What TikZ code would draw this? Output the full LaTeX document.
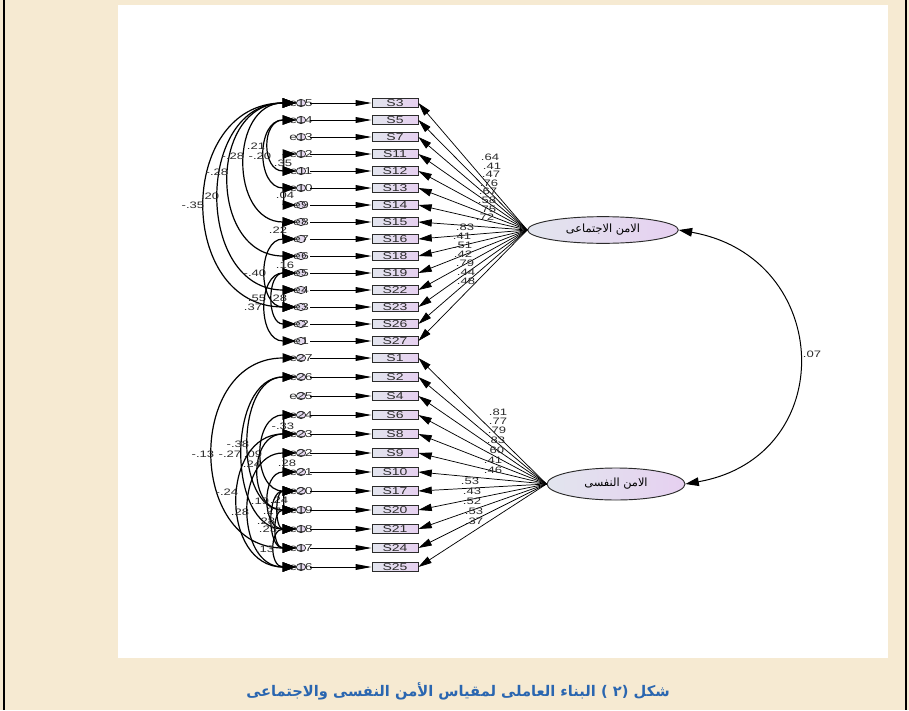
\documentclass[tikz,border=0pt]{standalone}
\usepackage{fontspec}
\usepackage{xcolor}
\usepackage{tikz}
\usetikzlibrary{arrows.meta,shapes}
\setmainfont{Liberation Sans}
\newfontfamily\amosfont[FakeStretch=1.4]{Liberation Sans}
\newfontfamily\arabicfont[Script=Arabic]{DejaVu Sans}
\TeXXeTstate=1
\definecolor{pagebg}{HTML}{F6EAD2}
\definecolor{capblue}{HTML}{2A66B0}
\definecolor{lav}{HTML}{E6D0F0}
\definecolor{lgray}{HTML}{E2E5EE}
\definecolor{ink}{HTML}{2B2B2B}

\begin{document}
\begin{tikzpicture}[
  x=0.75pt, y=-0.75pt,
  itembox/.style={draw=ink,line width=0.6pt,rectangle,left color=lgray,right color=lav,minimum width=34.5pt,minimum height=7pt,inner sep=0pt,font=\amosfont\fontsize{7.5}{8}\selectfont,text=ink},
  err/.style={draw=ink,line width=0.5pt,ellipse,left color=lgray,right color=lav,minimum width=7pt,minimum height=5.5pt,inner sep=0pt},
  every label/.style={font=\amosfont\fontsize{7.5}{8}\selectfont,text=ink,inner sep=0pt},
  latent/.style={draw=ink,line width=0.7pt,ellipse,left color=lgray,right color=lav,inner sep=0pt,font=\arabicfont\fontsize{8.5}{9}\selectfont},
  lbl/.style={font=\amosfont\fontsize{7}{8}\selectfont,text=ink,inner sep=0pt},
  erarrow/.style={-{Triangle[length=12pt,width=4.3pt]},line width=0.7pt,shorten <=3pt},
  ldarrow/.style={-{Triangle[length=10pt,width=5.5pt]},line width=0.55pt},
  cov/.style={{Triangle[length=10pt,width=7pt]}-{Triangle[length=10pt,width=7pt]},line width=0.9pt,out=180,in=180}
]
\useasboundingbox (0,0) rectangle (909,710);
% page and panel
\fill[pagebg] (0,0) rectangle (909,710);
\fill[white] (118,5) rectangle (888,658);
\draw[line width=0.8pt] (4,0) -- (4,710);
\draw[line width=0.8pt] (906,0) -- (906,710);
% latent factors
\node[latent,minimum width=113pt,minimum height=20pt] (soc) at (603,230) {\beginR الامن الاجتماعى\endR};
\node[latent,minimum width=103.5pt,minimum height=24pt] (psy) at (616,484) {\beginR الامن النفسى\endR};
% items, social factor
\node[itembox] (S3) at (395,103) {S3};
\node[itembox] (S5) at (395,120) {S5};
\node[itembox] (S7) at (395,137) {S7};
\node[itembox] (S11) at (395,154) {S11};
\node[itembox] (S12) at (395,171) {S12};
\node[itembox] (S13) at (395,188) {S13};
\node[itembox] (S14) at (395,205) {S14};
\node[itembox] (S15) at (395,222) {S15};
\node[itembox] (S16) at (395,239) {S16};
\node[itembox] (S18) at (395,256) {S18};
\node[itembox] (S19) at (395,273) {S19};
\node[itembox] (S22) at (395,290) {S22};
\node[itembox] (S23) at (395,307) {S23};
\node[itembox] (S26) at (395,324) {S26};
\node[itembox] (S27) at (395,341) {S27};
% items, psychological factor
\node[itembox] (S1) at (395,358) {S1};
\node[itembox] (S2) at (395,377) {S2};
\node[itembox] (S4) at (395,396) {S4};
\node[itembox] (S6) at (395,415) {S6};
\node[itembox] (S8) at (395,434) {S8};
\node[itembox] (S9) at (395,453) {S9};
\node[itembox] (S10) at (395,472) {S10};
\node[itembox] (S17) at (395,491) {S17};
\node[itembox] (S20) at (395,510) {S20};
\node[itembox] (S21) at (395,529) {S21};
\node[itembox] (S24) at (395,548) {S24};
\node[itembox] (S25) at (395,567) {S25};
% error terms
\node[err,label=center:e15] (e15) at (301,103) {};
\node[err,label=center:e14] (e14) at (301,120) {};
\node[err,label=center:e13] (e13) at (301,137) {};
\node[err,label=center:e12] (e12) at (301,154) {};
\node[err,label=center:e11] (e11) at (301,171) {};
\node[err,label=center:e10] (e10) at (301,188) {};
\node[err,label=center:e9] (e9) at (301,205) {};
\node[err,label=center:e8] (e8) at (301,222) {};
\node[err,label=center:e7] (e7) at (301,239) {};
\node[err,label=center:e6] (e6) at (301,256) {};
\node[err,label=center:e5] (e5) at (301,273) {};
\node[err,label=center:e4] (e4) at (301,290) {};
\node[err,label=center:e3] (e3) at (301,307) {};
\node[err,label=center:e2] (e2) at (301,324) {};
\node[err,label=center:e1] (e1) at (301,341) {};
\node[err,label=center:e27] (e27) at (301,358) {};
\node[err,label=center:e26] (e26) at (301,377) {};
\node[err,label=center:e25] (e25) at (301,396) {};
\node[err,label=center:e24] (e24) at (301,415) {};
\node[err,label=center:e23] (e23) at (301,434) {};
\node[err,label=center:e22] (e22) at (301,453) {};
\node[err,label=center:e21] (e21) at (301,472) {};
\node[err,label=center:e20] (e20) at (301,491) {};
\node[err,label=center:e19] (e19) at (301,510) {};
\node[err,label=center:e18] (e18) at (301,529) {};
\node[err,label=center:e17] (e17) at (301,548) {};
\node[err,label=center:e16] (e16) at (301,567) {};
% error -> item
\draw[erarrow] (e15) -- (S3); \draw[erarrow] (e14) -- (S5); \draw[erarrow] (e13) -- (S7);
\draw[erarrow] (e12) -- (S11); \draw[erarrow] (e11) -- (S12); \draw[erarrow] (e10) -- (S13);
\draw[erarrow] (e9) -- (S14); \draw[erarrow] (e8) -- (S15); \draw[erarrow] (e7) -- (S16);
\draw[erarrow] (e6) -- (S18); \draw[erarrow] (e5) -- (S19); \draw[erarrow] (e4) -- (S22);
\draw[erarrow] (e3) -- (S23); \draw[erarrow] (e2) -- (S26); \draw[erarrow] (e1) -- (S27);
\draw[erarrow] (e27) -- (S1); \draw[erarrow] (e26) -- (S2); \draw[erarrow] (e25) -- (S4);
\draw[erarrow] (e24) -- (S6); \draw[erarrow] (e23) -- (S8); \draw[erarrow] (e22) -- (S9);
\draw[erarrow] (e21) -- (S10); \draw[erarrow] (e20) -- (S17); \draw[erarrow] (e19) -- (S20);
\draw[erarrow] (e18) -- (S21); \draw[erarrow] (e17) -- (S24); \draw[erarrow] (e16) -- (S25);
% loadings
\draw[ldarrow] (soc.west) -- (S3.east); \draw[ldarrow] (soc.west) -- (S5.east); \draw[ldarrow] (soc.west) -- (S7.east);
\draw[ldarrow] (soc.west) -- (S11.east); \draw[ldarrow] (soc.west) -- (S12.east); \draw[ldarrow] (soc.west) -- (S13.east);
\draw[ldarrow] (soc.west) -- (S14.east); \draw[ldarrow] (soc.west) -- (S15.east); \draw[ldarrow] (soc.west) -- (S16.east);
\draw[ldarrow] (soc.west) -- (S18.east); \draw[ldarrow] (soc.west) -- (S19.east); \draw[ldarrow] (soc.west) -- (S22.east);
\draw[ldarrow] (soc.west) -- (S23.east); \draw[ldarrow] (soc.west) -- (S26.east); \draw[ldarrow] (soc.west) -- (S27.east);
\draw[ldarrow] (psy.west) -- (S1.east); \draw[ldarrow] (psy.west) -- (S2.east); \draw[ldarrow] (psy.west) -- (S4.east);
\draw[ldarrow] (psy.west) -- (S6.east); \draw[ldarrow] (psy.west) -- (S8.east); \draw[ldarrow] (psy.west) -- (S9.east);
\draw[ldarrow] (psy.west) -- (S10.east); \draw[ldarrow] (psy.west) -- (S17.east); \draw[ldarrow] (psy.west) -- (S20.east);
\draw[ldarrow] (psy.west) -- (S21.east); \draw[ldarrow] (psy.west) -- (S24.east); \draw[ldarrow] (psy.west) -- (S25.east);
% loading weights
\node[lbl] (wS3) at (490,157) {.64}; \node[lbl] (wS5) at (492,166) {.41}; \node[lbl] (wS7) at (491,174) {.47};
\node[lbl] (wS11) at (489,183) {.76}; \node[lbl] (wS12) at (488,191) {.67}; \node[lbl] (wS13) at (487,200) {.58};
\node[lbl] (wS14) at (487,209) {.75}; \node[lbl] (wS15) at (485,217) {.72}; \node[lbl] (wS16) at (465,227) {.83};
\node[lbl] (wS18) at (462,236) {.41}; \node[lbl] (wS19) at (463,245) {.51}; \node[lbl] (wS22) at (463,254) {.42};
\node[lbl] (wS23) at (465,263) {.79}; \node[lbl] (wS26) at (466,272) {.44}; \node[lbl] (wS27) at (466,281) {.48};
\node[lbl] (wS1) at (498,412) {.81}; \node[lbl] (wS2) at (498,421) {.77}; \node[lbl] (wS4) at (497,430) {.79};
\node[lbl] (wS6) at (496,440) {.83}; \node[lbl] (wS8) at (495,450) {.60}; \node[lbl] (wS9) at (493,460) {.41};
\node[lbl] (wS10) at (493,470) {.46}; \node[lbl] (wS17) at (470,481) {.53}; \node[lbl] (wS20) at (472,491) {.43};
\node[lbl] (wS21) at (472,501) {.52}; \node[lbl] (wS24) at (474,511) {.53}; \node[lbl] (wS25) at (474,521) {.37};
% factor covariance
\draw[{Triangle[length=10pt,width=6.5pt]}-{Triangle[length=10pt,width=6.5pt]},line width=0.75pt] (soc.east) to[out=-10,in=10,distance=118pt] (psy.east);
\node[lbl] (cvf) at (812,354) {.07};
% error covariances, social factor
\draw[cov] (e15) to[distance=90pt] (e3); \node[lbl] (cv1) at (193,205) {-.35};
\draw[cov] (e15) to[distance=76pt] (e4); \node[lbl] (cv2) at (210,196) {.20};
\draw[cov] (e15) to[distance=66pt] (e6); \node[lbl] (cv3) at (217,172) {-.28};
\draw[cov] (e15) to[distance=50pt] (e8); \node[lbl] (cv4) at (233,156) {-.28};
\draw[cov] (e14) to[distance=30pt] (e10); \node[lbl] (cv5) at (260,156) {-.20};
\draw[cov] (e14) to[distance=26pt] (e11); \node[lbl] (cv6) at (256,146) {.21};
\draw[cov] (e12) to[distance=9pt] (e11); \node[lbl] (cv7) at (283,163) {.35};
\draw[cov] (e10) to[distance=9pt] (e9); \node[lbl] (cv8) at (285,195) {.04};
\draw[cov] (e8) to[distance=10pt] (e7); \node[lbl] (cv9) at (278,230) {.22};
\draw[cov] (e6) to[distance=9pt] (e5); \node[lbl] (cv10) at (285,265) {.16};
\draw[cov] (e7) to[distance=29pt] (e3); \node[lbl] (cv11) at (255,273) {-.40};
\draw[cov] (e5) to[distance=22pt] (e2); \node[lbl] (cv12) at (257,298) {.55};
\draw[cov] (e4) to[distance=9pt] (e3); \node[lbl] (cv13) at (278,298) {.28};
\draw[cov] (e5) to[distance=29pt] (e1); \node[lbl] (cv14) at (253,307) {.37};
% error covariances, psychological factor
\draw[cov] (e27) to[distance=82pt] (e17); \node[lbl] (cv15) at (203,454) {-.13};
\draw[cov] (e26) to[distance=52pt] (e18); \node[lbl] (cv16) at (230,454) {-.27};
\draw[cov] (e26) to[distance=46pt] (e19); \node[lbl] (cv17) at (238,444) {-.38};
\draw[cov] (e24) to[distance=33pt] (e20); \node[lbl] (cv18) at (253,454) {.09};
\draw[cov] (e23) to[distance=36pt] (e19); \node[lbl] (cv19) at (252,464) {.24};
\draw[cov] (e24) to[distance=9pt] (e23); \node[lbl] (cv20) at (283,426) {-.33};
\draw[cov] (e22) to[distance=9pt] (e21); \node[lbl] (cv21) at (287,463) {.28};
\draw[cov] (e23) to[distance=57pt] (e16); \node[lbl] (cv22) at (227,492) {-.24};
\draw[cov] (e21) to[distance=26pt] (e18); \node[lbl] (cv23) at (260,501) {.19};
\draw[cov] (e20) to[distance=9pt] (e19); \node[lbl] (cv24) at (279,500) {.24};
\draw[cov] (e22) to[distance=46pt] (e16); \node[lbl] (cv25) at (240,512) {.28};
\draw[cov] (e20) to[distance=16pt] (e18); \node[lbl] (cv26) at (272,511) {.27};
\draw[cov] (e20) to[distance=22pt] (e17); \node[lbl] (cv27) at (266,521) {.28};
\draw[cov] (e19) to[distance=18pt] (e17); \node[lbl] (cv28) at (268,529) {.23};
\draw[cov] (e18) to[distance=20pt] (e16); \node[lbl] (cv29) at (265,549) {.13};
% caption
\node[font=\arabicfont\bfseries\fontsize{11}{13}\selectfont,text=capblue] (cap) at (458,691) {\beginR شكل (٢ ) البناء العاملى لمقياس الأمن النفسى والاجتماعى\endR};
\end{tikzpicture}
\end{document}
